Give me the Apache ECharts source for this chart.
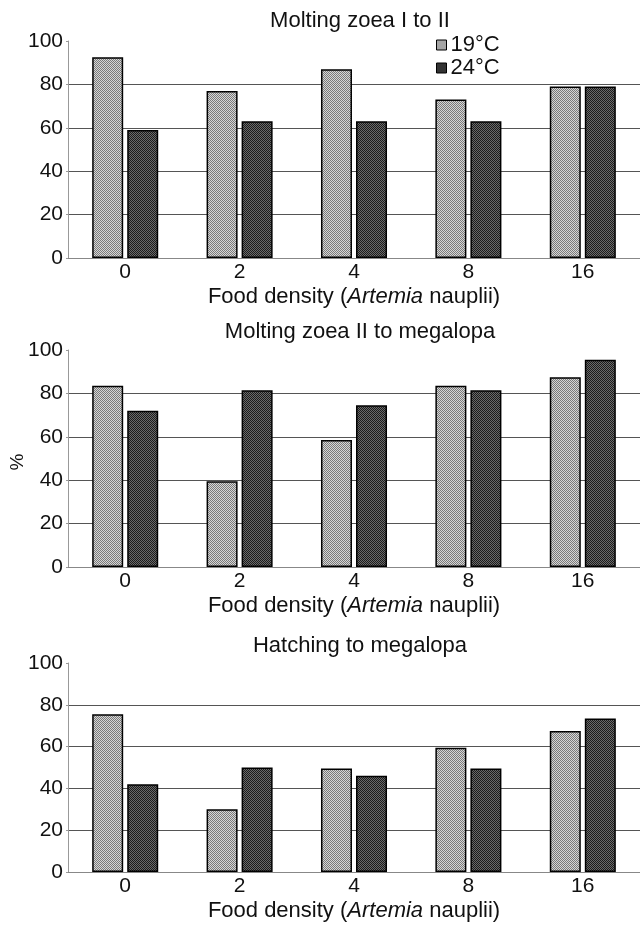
<!DOCTYPE html>
<html>
<head>
<meta charset="utf-8">
<script src="https://cdn.jsdelivr.net/npm/echarts@6/dist/echarts.min.js"></script>
<style>html,body{margin:0;padding:0;background:#fff}#c{width:640px;height:928px}</style>
</head>
<body>
<div id="c"></div>
<script>
const categories = ['0', '2', '4', '8', '16'];
const seriesNames = ['19°C', '24°C'];
const panelTitles = ['Molting zoea I to II', 'Molting zoea II to megalopa', 'Hatching to megalopa'];
const yAxisTitle = '%';
const yTicks = [0, 20, 40, 60, 80, 100];
const zoea1_19 = [92.5, 77, 87, 73, 79];
const zoea1_24 = [59, 63, 63, 63, 79];
const zoea2_19 = [83.5, 39.5, 58.5, 83.5, 87.5];
const zoea2_24 = [72, 81.5, 74.5, 81.5, 95.5];
const hatch_19 = [75.5, 30, 49.5, 59.5, 67.5];
const hatch_24 = [42, 50, 46, 49.5, 73.5];

function pattern(c1, c2) {
  const cv = document.createElement('canvas');
  cv.width = 2; cv.height = 2;
  const ctx = cv.getContext('2d');
  ctx.fillStyle = c1; ctx.fillRect(0, 0, 2, 2);
  ctx.fillStyle = c2; ctx.fillRect(0, 0, 1, 1); ctx.fillRect(1, 1, 1, 1);
  return { image: cv, repeat: 'repeat' };
}
const lightFill = pattern('#d6d6d6', '#7a7a7a');
const darkFill = pattern('#6a6a6a', '#1c1c1c');

const font = 'Liberation Sans, Arial, sans-serif';
const fs = 21;
const fsName = 22;
const grids = [
  { left: 68, right: 0, top: 41, height: 217, containLabel: false, outerBoundsMode: 'none' },
  { left: 68, right: 0, top: 350, height: 217, containLabel: false, outerBoundsMode: 'none' },
  { left: 68, right: 0, top: 663, height: 209, containLabel: false, outerBoundsMode: 'none' }
];
const titleTops = [5, 316, 630];
const data = [[zoea1_19, zoea1_24], [zoea2_19, zoea2_24], [hatch_19, hatch_24]];

const xAxes = [], yAxes = [], series = [], titles = [];
for (let i = 0; i < 3; i++) {
  titles.push({ text: panelTitles[i], left: 355, top: titleTops[i], textAlign: 'center',
    textStyle: { fontFamily: font, fontSize: fsName, fontWeight: 'normal', color: '#111' } });
  xAxes.push({
    type: 'category', gridIndex: i, data: categories,
    name: '{n|Food density (}{i|Artemia}{n| nauplii)}',
    nameLocation: 'middle', nameGap: 28,
    nameTextStyle: { rich: {
      n: { fontFamily: font, fontSize: fsName, color: '#111' },
      i: { fontFamily: font, fontSize: fsName, fontStyle: 'italic', color: '#111' } } },
    axisLine: { lineStyle: { color: '#888', width: 1 } },
    axisTick: { inside: true, length: 4, lineStyle: { color: '#777' } },
    axisLabel: { fontFamily: font, fontSize: fs, color: '#111', margin: 4 }
  });
  yAxes.push({
    type: 'value', gridIndex: i, min: yTicks[0], max: yTicks[yTicks.length - 1], interval: 20,
    axisLine: { show: true, lineStyle: { color: '#999', width: 1 } },
    axisTick: { show: true, length: 2, lineStyle: { color: '#999' } },
    axisLabel: { fontFamily: font, fontSize: fs, color: '#111', margin: 5 },
    splitLine: { show: true, showMaxLine: false, showMinLine: false, lineStyle: { color: '#555', width: 1 } }
  });
  for (let s = 0; s < 2; s++) {
    series.push({
      type: 'bar', name: seriesNames[s], xAxisIndex: i, yAxisIndex: i,
      data: data[i][s], barWidth: 31, barGap: '13%',
      itemStyle: { color: s === 0 ? lightFill : darkFill, borderColor: '#000', borderWidth: 1.5 },
      animation: false
    });
  }
}

const chart = echarts.init(document.getElementById('c'));
chart.setOption({
  animation: false,
  title: titles,
  legend: {
    data: [{ name: '19°C', itemStyle: { color: '#a5a5a5', borderColor: '#000', borderWidth: 1 } },
           { name: '24°C', itemStyle: { color: '#333', borderColor: '#000', borderWidth: 1 } }],
    orient: 'vertical', left: 431, top: 29, icon: 'rect', itemWidth: 10, itemHeight: 10, itemGap: 1,
    textStyle: { fontFamily: font, fontSize: fsName, color: '#111', padding: [0, 0, 0, -1] }
  },
  graphic: [{
    type: 'text', x: 18, y: 462, rotation: Math.PI / 2,
    style: { text: yAxisTitle, fontFamily: font, fontSize: 19, fill: '#111',
      textAlign: 'center', textVerticalAlign: 'middle' }
  }],
  grid: grids,
  xAxis: xAxes,
  yAxis: yAxes,
  series: series
});
</script>
</body>
</html>
